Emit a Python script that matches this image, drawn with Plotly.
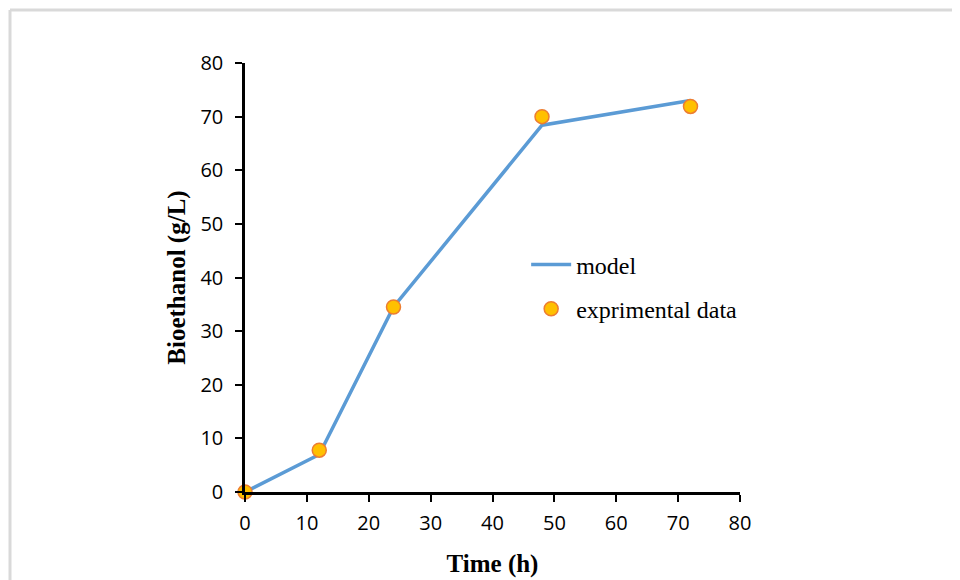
import plotly.graph_objects as go

time_h = [0, 12, 24, 48, 72]
model_vals = [0, 7.0, 34.5, 68.4, 73.0]
exp_vals = [0, 7.8, 34.5, 70.0, 71.9]
x_ticks = [0, 10, 20, 30, 40, 50, 60, 70, 80]
y_ticks = [0, 10, 20, 30, 40, 50, 60, 70, 80]

# figure is rendered with an 8px page margin, so size/offset compensate
W, H = 952, 572
L, R, T, B = 237, 220, 55, 88
pw, ph = W - L - R, H - T - B

fig = go.Figure()
fig.add_trace(go.Scatter(x=time_h, y=model_vals, mode="lines", name="model",
                         legendgroup="model",
                         line=dict(color="#5B9BD5", width=3.5), cliponaxis=False))
fig.add_trace(go.Scatter(x=time_h, y=exp_vals, mode="markers", name="exprimental data",
                         legendgroup="exp",
                         marker=dict(size=14, color="#FFC000", line=dict(color="#ED7D31", width=1.5)),
                         cliponaxis=False))

tickfont = dict(family="Open Sans, Lato, sans-serif", size=20, color="black")
titlefont = dict(family="Liberation Serif, Times New Roman, serif", size=25, color="black", weight="bold")

fig.update_layout(
    width=W, height=H,
    margin=dict(l=L, r=R, t=T, b=B, autoexpand=False),
    paper_bgcolor="white", plot_bgcolor="white",
    showlegend=True,
    legend=dict(x=0.568, y=0.478, xanchor="left", yanchor="middle",
                font=dict(family="Liberation Serif, Times New Roman, serif", size=24, color="black"),
                bgcolor="rgba(0,0,0,0)", tracegroupgap=10, itemwidth=40),
    xaxis=dict(range=[0, 80], tickvals=x_ticks, showgrid=False, zeroline=False,
               showline=True, linecolor="black", linewidth=2.5,
               ticks="outside", ticklen=7, tickwidth=2, tickcolor="black",
               tickfont=tickfont, ticklabelstandoff=4, automargin=False,
               title=dict(text="Time (h)", font=titlefont, standoff=20)),
    yaxis=dict(range=[0, 80], tickvals=y_ticks, showgrid=False, zeroline=False,
               showline=True, linecolor="black", linewidth=2.5,
               ticks="outside", ticklen=7, tickwidth=2, tickcolor="black",
               tickfont=tickfont, ticklabelstandoff=8, automargin=False,
               title=dict(text="Bioethanol (g/L)", font=titlefont, standoff=8)),
)
fig.add_shape(type="line", xref="paper", yref="paper",
              x0=(2 - L) / pw, x1=(W + 10 - L) / pw,
              y0=(H - B - 2) / ph, y1=(H - B - 2) / ph,
              line=dict(color="#d9d9d9", width=3))
fig.add_shape(type="line", xref="paper", yref="paper",
              x0=(2 - L) / pw, x1=(2 - L) / pw,
              y0=(H - B - 2) / ph, y1=(H - B - H - 10) / ph,
              line=dict(color="#d9d9d9", width=3))

fig.write_html("out.html")
